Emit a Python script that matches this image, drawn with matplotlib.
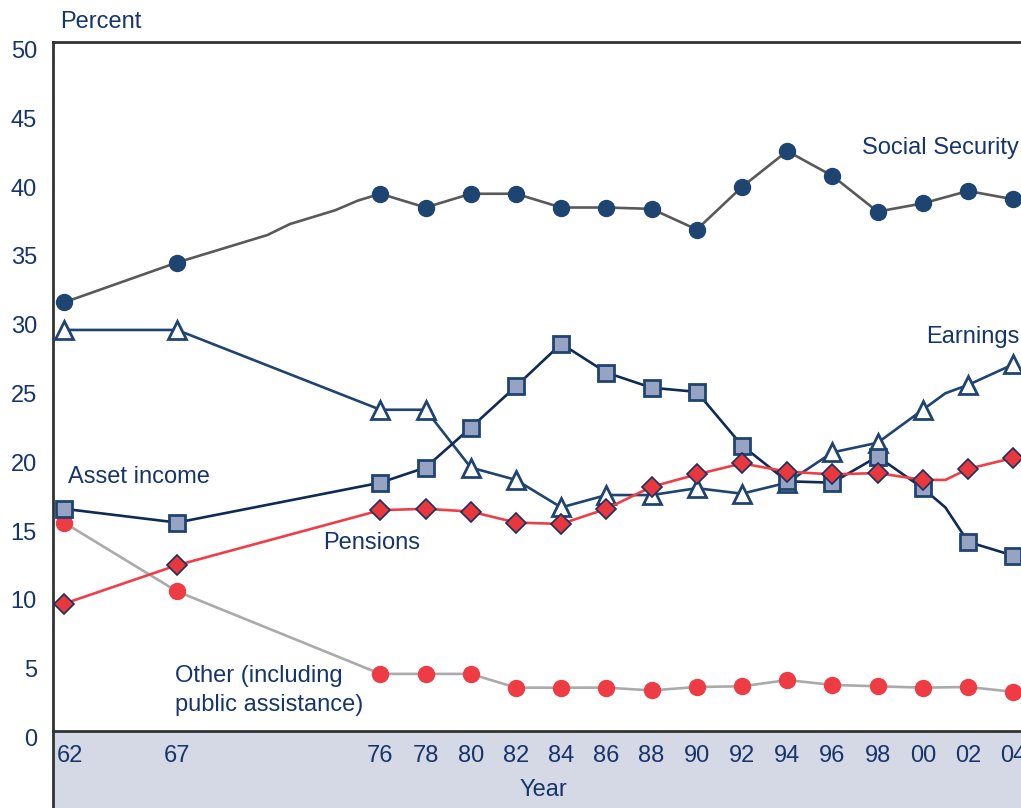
import numpy as np
import matplotlib.pyplot as plt
from matplotlib.lines import Line2D
from matplotlib.patches import Rectangle
import matplotlib.transforms as mtransforms

plt.rcParams['font.family'] = ['Liberation Sans', 'DejaVu Sans']

# years that carry a marker (and an x tick label)
marker_years = [1962, 1967, 1976, 1978, 1980, 1982, 1984, 1986, 1988, 1990,
                1992, 1994, 1996, 1998, 2000, 2002, 2004]
tick_labels = ['62', '67', '76', '78', '80', '82', '84', '86', '88', '90',
               '92', '94', '96', '98', '00', '02', '04']

ss_years = [1962, 1967, 1971, 1972, 1974, 1975, 1976, 1978, 1980, 1982, 1984, 1986,
            1988, 1990, 1992, 1994, 1996, 1998, 2000, 2002, 2004]
ss_vals = [31.8, 34.7, 36.7, 37.5, 38.5, 39.2, 39.7, 38.7, 39.7, 39.7, 38.7, 38.7,
           38.6, 37.1, 40.2, 42.8, 41.0, 38.4, 39.0, 39.9, 39.3]

earn_years = [1962, 1967, 1976, 1978, 1980, 1982, 1984, 1986, 1988, 1990, 1992,
              1994, 1996, 1998, 2000, 2001, 2002, 2004]
earn_vals = [29.8, 29.8, 24.0, 24.0, 19.8, 18.9, 16.9, 17.8, 17.8, 18.3, 17.9,
             18.7, 20.9, 21.6, 24.0, 25.2, 25.8, 27.3]

asset_years = [1962, 1967, 1976, 1978, 1980, 1982, 1984, 1986, 1988, 1990, 1992,
               1994, 1996, 1998, 2000, 2001, 2002, 2004]
asset_vals = [16.8, 15.8, 18.7, 19.8, 22.7, 25.7, 28.8, 26.7, 25.6, 25.3, 21.4,
              18.8, 18.7, 20.6, 18.3, 16.9, 14.4, 13.4]

pens_years = [1962, 1967, 1976, 1978, 1980, 1982, 1984, 1986, 1988, 1990, 1992,
              1994, 1996, 1998, 2000, 2001, 2002, 2004]
pens_vals = [9.9, 12.7, 16.7, 16.8, 16.6, 15.8, 15.7, 16.8, 18.4, 19.3, 20.1,
             19.5, 19.3, 19.4, 18.9, 18.9, 19.7, 20.5]

other_years = [1962, 1967, 1976, 1978, 1980, 1982, 1984, 1986, 1988, 1990, 1992,
               1994, 1996, 1998, 2000, 2002, 2004]
other_vals = [15.8, 10.8, 4.8, 4.8, 4.8, 3.8, 3.8, 3.8, 3.6, 3.85, 3.9,
              4.35, 4.0, 3.9, 3.8, 3.85, 3.5]

text_col = '#16356a'
fs = 17

fig = plt.figure(figsize=(10.21, 8.08), dpi=100)
W, H = 1021, 808
ax = fig.add_axes([53 / W, 77 / H, 1 - 53 / W, 689 / H])

x0 = 1962 - 11 / 22.6
x1 = 1962 + (W - 64) / 22.6
ax.set_xlim(x0, x1)
ax.set_ylim(0.65, 50.73)


def mask(years):
    return list(np.isin(years, marker_years))


ax.plot(other_years, other_vals, color='#aaaaaa', lw=1.9, marker='o', ms=11.5,
        mfc='#ee3b44', mec='#ee3b44', markevery=mask(other_years), zorder=2)
ax.plot(ss_years, ss_vals, color='#595959', lw=1.9, marker='o', ms=11.5,
        mfc='#1e4472', mec='#1e4472', markevery=mask(ss_years), zorder=3)
ax.plot(earn_years, earn_vals, color='#1f4470', lw=1.9, marker='^', ms=13,
        mfc='white', mec='#1f4470', mew=2, markevery=mask(earn_years), zorder=4)
ax.plot(asset_years, asset_vals, color='#0d2b55', lw=1.9, marker='s', ms=12,
        mfc='#97a3c2', mec='#1f4470', mew=2, markevery=mask(asset_years), zorder=4)
ax.plot(pens_years, pens_vals, color='#ef3e45', lw=1.9, marker='D', ms=10,
        mfc='#e8383d', mec='#1b3060', mew=1.2, markevery=mask(pens_years), zorder=5)

# frame
ax.spines['right'].set_visible(False)
for s in ['top', 'bottom', 'left']:
    ax.spines[s].set_color('#333333')
    ax.spines[s].set_linewidth(2)
ax.set_xticks([])
ax.set_yticks([])

# shaded year band below the plot
fig.add_artist(Rectangle((53 / W, 0), 1 - 53 / W, 77 / H, transform=fig.transFigure,
                         facecolor='#d5d9e6', edgecolor='none', zorder=0))
fig.add_artist(Line2D([53 / W, 53 / W], [0, 77 / H], transform=fig.transFigure,
                      color='#333333', lw=2))

# y tick labels (sit a little below the value they mark)
ytrans = mtransforms.blended_transform_factory(fig.transFigure, ax.transData)
for v in range(0, 51, 5):
    fig.text(37 / W, v, str(v), transform=ytrans, ha='right', va='center',
             fontsize=fs, color=text_col)

# x tick labels
xtrans = mtransforms.blended_transform_factory(ax.transData, fig.transFigure)
for yr, lab in zip(marker_years, tick_labels):
    xpos = yr + 0.27 if yr == 1962 else yr
    fig.text(xpos, 1 - 756 / H, lab, transform=xtrans, ha='center', va='center',
             fontsize=fs, color=text_col)
fig.text(543 / W, 1 - 790 / H, 'Year', ha='center', va='center', fontsize=fs,
         color=text_col)
fig.text(60 / W, 1 - 22 / H, 'Percent', ha='left', va='center', fontsize=fs,
         color=text_col)

# series labels
fig.text(862 / W, 1 - 148 / H, 'Social Security', ha='left', va='center',
         fontsize=fs, color=text_col)
fig.text(926 / W, 1 - 337 / H, 'Earnings', ha='left', va='center',
         fontsize=fs, color=text_col)
fig.text(68 / W, 1 - 477 / H, 'Asset income', ha='left', va='center',
         fontsize=fs, color=text_col)
fig.text(323 / W, 1 - 543 / H, 'Pensions', ha='left', va='center',
         fontsize=fs, color=text_col)
fig.text(175 / W, 1 - 676 / H, 'Other (including', ha='left', va='center',
         fontsize=fs, color=text_col)
fig.text(175 / W, 1 - 705 / H, 'public assistance)', ha='left', va='center',
         fontsize=fs, color=text_col)

fig.savefig('out.png', dpi=100)
